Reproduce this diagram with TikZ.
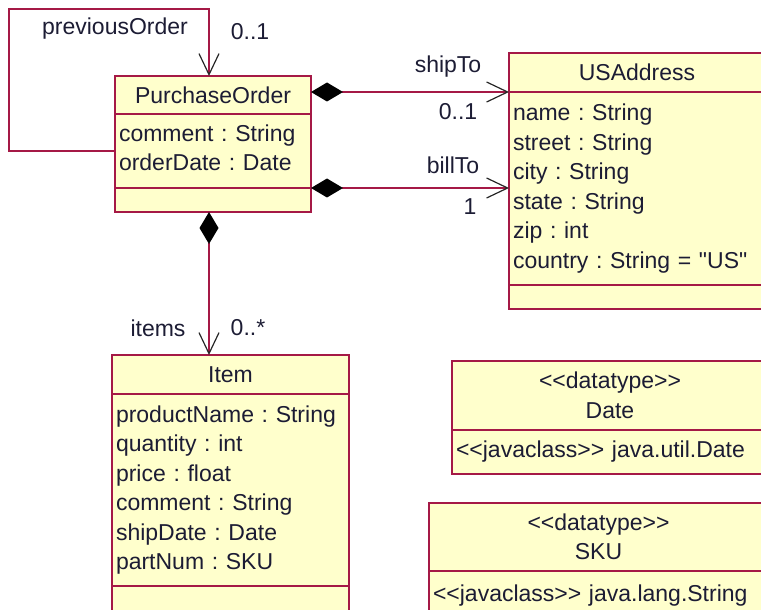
\documentclass[tikz,border=0pt]{standalone}
\usepackage{fontspec}
\newfontfamily\umlfont{Liberation Sans}
\usepackage{tikz}
\usetikzlibrary{shapes, arrows.meta, positioning}
\frenchspacing
\definecolor{umlred}{RGB}{165,25,70}
\definecolor{umlyellow}{RGB}{255,255,204}
\definecolor{umlink}{RGB}{28,28,52}
\tikzstyle{classpart} = [rectangle, draw=umlred, fill=umlyellow, line width=0.6pt,
    inner xsep=2pt, inner ysep=0pt, outer sep=0pt, text=umlink,
    font=\umlfont\fontsize{11.5}{14.75}\selectfont]
\tikzstyle{classhead} = [classpart, align=center]
\tikzstyle{classbody} = [classpart, align=left]
\tikzstyle{rolelabel} = [text=umlink, inner sep=0pt, font=\umlfont\fontsize{11.5}{14}\selectfont]
\tikzstyle{line} = [draw=umlred, line width=0.6pt]
\tikzstyle{navline} = [line, -{Straight Barb[length=10.5pt, width=10pt, color=black!85]}]
\tikzstyle{compline} = [line, {Diamond[length=16pt, width=9.5pt, color=black]}-{Straight Barb[length=10.5pt, width=10pt, color=black!85]}]

\begin{document}
\begin{tikzpicture}[x=0.5pt, y=-0.5pt, node distance=0pt]
		\clip (0,0) rectangle (761,610);
		% class boxes
		\node [classhead, text width=94pt, minimum height=19pt, anchor=north west] (poName) at (115,76) {PurchaseOrder};
		\node [classbody, text width=94pt, minimum height=37pt, below=of poName] (poAttr) {comment : String\\orderDate : Date\vspace{3pt}};
		\node [classbody, text width=94pt, minimum height=12pt, below=of poAttr] (poOps) {};

		\node [classhead, text width=124pt, minimum height=19.5pt, anchor=north west] (usaName) at (509,53) {USAddress};
		\node [classbody, text width=124pt, minimum height=96.5pt, below=of usaName] (usaAttr) {name : String\\street : String\\city : String\\state : String\\zip : int\\country : String = "US"};
		\node [classbody, text width=124pt, minimum height=12pt, below=of usaAttr] (usaOps) {};

		\node [classhead, text width=114.5pt, minimum height=19.5pt, anchor=north west] (itemName) at (112,355) {Item};
		\node [classbody, text width=114.5pt, minimum height=96pt, below=of itemName] (itemAttr) {productName : String\\quantity : int\\price : float\\comment : String\\shipDate : Date\\partNum : SKU};
		\node [classbody, text width=114.5pt, minimum height=17pt, below=of itemAttr] (itemOps) {};

		\node [classhead, text width=154pt, minimum height=34.5pt, anchor=north west] (dateName) at (452,361) {<<datatype>>\\Date};
		\node [classbody, text width=154pt, minimum height=22pt, below=of dateName] (dateAttr) {<<javaclass>> java.util.Date};

		\node [classhead, text width=165.5pt, minimum height=34pt, anchor=north west] (skuName) at (429,503) {<<datatype>>\\SKU};
		\node [classbody, text width=165.5pt, minimum height=25pt, below=of skuName] (skuAttr) {<<javaclass>> java.lang.String};

		% role names and multiplicities
		\node [rolelabel] (prevRole) at (115,29) {previousOrder};
		\node [rolelabel] (prevMult) at (250,32) {0..1};
		\node [rolelabel] (shipRole) at (448,67) {shipTo};
		\node [rolelabel] (shipMult) at (458,112) {0..1};
		\node [rolelabel] (billRole) at (453,165) {billTo};
		\node [rolelabel] (billMult) at (470,207) {1};
		\node [rolelabel] (itemsRole) at (158,328) {items};
		\node [rolelabel] (itemsMult) at (248,328) {0..*};

		% associations
		\coordinate (loopCorner) at (9,9);
		\coordinate (loopIn) at ([xshift=-2pt]poName.north);
		\path [navline] (poAttr.west) -| (loopCorner) -| (loopIn);
		\path [compline] (poName.east |- usaName.south) -- (usaName.south west);
		\path [compline] (poAttr.south east) -- (poAttr.south east -| usaAttr.west);
		\path [compline] ([xshift=-2pt]poOps.south) -- ([xshift=-2pt]poOps.south |- itemName.north);
	\end{tikzpicture}
\end{document}
